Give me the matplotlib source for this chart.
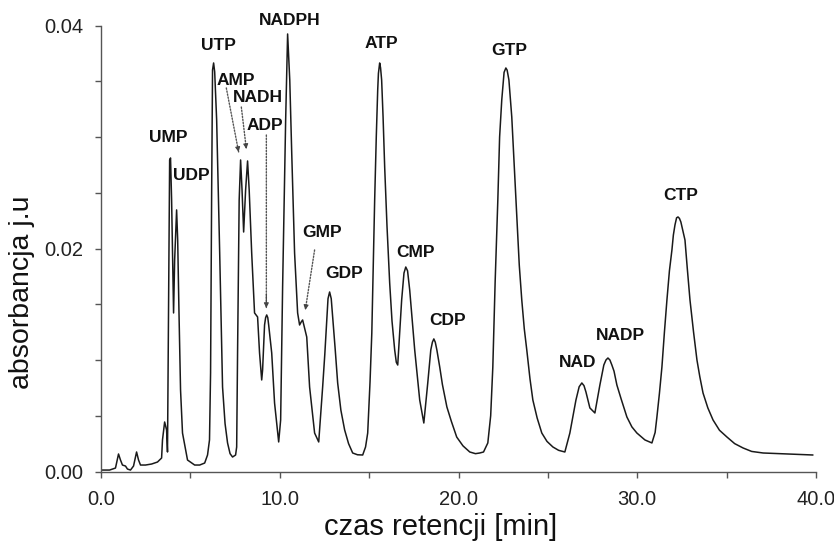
import matplotlib
matplotlib.use("Agg")
import matplotlib.pyplot as plt
import numpy as np

plt.rcParams['font.family'] = ['Liberation Sans', 'DejaVu Sans']

# retention time [min] and absorbance, region by region
time_min = [
    # baseline and early small peaks
    0.00, 0.48, 0.81, 0.98, 1.09, 1.20, 1.37, 1.48, 1.65, 1.82, 1.99, 2.10, 2.21, 2.49,
    2.83, 3.16, 3.39, 3.44, 3.56, 3.67, 3.72,
    # UMP / UDP
    3.78, 3.84, 3.89, 3.95, 4.06, 4.12, 4.23, 4.29, 4.36, 4.45, 4.56, 4.84, 5.24, 5.52,
    5.80, 5.96, 6.07,
    # UTP
    6.13, 6.19, 6.24, 6.30, 6.36, 6.47, 6.64, 6.80, 6.94, 7.08, 7.22, 7.36, 7.53, 7.59,
    # AMP / NADH / ADP
    7.64, 7.73, 7.81, 7.89, 7.98, 8.09, 8.20, 8.29, 8.43, 8.59, 8.76, 8.87, 8.99, 9.04,
    9.15, 9.21, 9.27, 9.33, 9.38, 9.55, 9.71, 9.94,
    # NADPH / GMP / GDP
    10.05, 10.16, 10.33, 10.44, 10.56, 10.67, 10.83, 11.00, 11.11, 11.20, 11.28, 11.39,
    11.51, 11.67, 11.95, 12.18, 12.40, 12.52, 12.63, 12.70, 12.79, 12.88, 12.96, 13.10,
    13.24, 13.42, 13.63, 13.85, 14.08, 14.35, 14.64,
    # ATP / CMP / CDP
    14.80, 14.92, 15.05, 15.15, 15.23, 15.31, 15.40, 15.48, 15.52, 15.59, 15.64, 15.70,
    15.78, 15.87, 16.00, 16.15, 16.28, 16.43, 16.52, 16.60, 16.82, 16.95, 17.05, 17.15,
    17.27, 17.55, 17.83, 18.06, 18.28, 18.45, 18.54, 18.62, 18.70, 18.79, 18.95, 19.10,
    19.35, 19.60, 19.90, 20.25, 20.63, 20.95, 21.19, 21.40,
    # GTP
    21.64, 21.80, 21.92, 22.05, 22.20, 22.30, 22.42, 22.55, 22.65, 22.72, 22.82, 22.98,
    23.10, 23.26, 23.40, 23.54, 23.68, 23.82, 24.00, 24.16, 24.40, 24.66, 24.95, 25.28,
    25.60, 25.95,
    # NAD / NADP
    26.23, 26.57, 26.75, 26.90, 27.02, 27.13, 27.35, 27.63, 27.91, 28.13, 28.25, 28.36,
    28.47, 28.58, 28.70, 28.86, 29.10, 29.42, 29.70, 29.98, 30.43, 30.82,
    # CTP and tail
    31.00, 31.10, 31.24, 31.38, 31.52, 31.66, 31.80, 31.94, 32.02, 32.11, 32.20, 32.28,
    32.36, 32.44, 32.55, 32.67, 32.80, 32.95, 33.15, 33.34, 33.50, 33.68, 33.95, 34.24,
    34.60, 35.02, 35.45, 35.92, 36.40, 37.04, 38.38, 39.83,
]
absorbance = [
    # baseline and early small peaks
    0.00013, 0.00013, 0.00031, 0.00157, 0.00103, 0.00058, 0.00049, 0.00022, 0.00013, 0.00049,
    0.00175, 0.00103, 0.00058, 0.00058, 0.00067, 0.00085, 0.00121, 0.00283, 0.00444, 0.00372,
    0.00175,
    # UMP / UDP
    0.01538, 0.02794, 0.02812, 0.02435, 0.01422, 0.01897, 0.02346, 0.02076, 0.01449, 0.00731,
    0.00345, 0.00103, 0.00058, 0.00058, 0.00076, 0.00148, 0.00283,
    # UTP
    0.00884, 0.02500, 0.03601, 0.03664, 0.03584, 0.03153, 0.01960, 0.00758, 0.00430, 0.00256,
    0.00160, 0.00130, 0.00148, 0.00220,
    # AMP / NADH / ADP
    0.01063, 0.02435, 0.02794, 0.02525, 0.02148, 0.02525, 0.02785, 0.02525, 0.01960, 0.01422,
    0.01386, 0.01063, 0.00821, 0.00910, 0.01314, 0.01380, 0.01404, 0.01380, 0.01314, 0.01063,
    0.00614, 0.00265,
    # NADPH / GMP / GDP
    0.00462, 0.01655, 0.03153, 0.03924, 0.03512, 0.02857, 0.01960, 0.01422, 0.01314, 0.01341,
    0.01359, 0.01287, 0.01206, 0.00758, 0.00345, 0.00265, 0.00758, 0.01050, 0.01359, 0.01550,
    0.01610, 0.01550, 0.01386, 0.01100, 0.00794, 0.00550, 0.00373, 0.00250, 0.00166, 0.00150,
    0.00148,
    # ATP / CMP / CDP
    0.00220, 0.00345, 0.00800, 0.01242, 0.01850, 0.02435, 0.03000, 0.03422, 0.03570, 0.03664,
    0.03620, 0.03512, 0.03180, 0.02731, 0.02200, 0.01691, 0.01350, 0.01090, 0.00980, 0.00955,
    0.01538, 0.01780, 0.01834, 0.01800, 0.01628, 0.01090, 0.00641, 0.00435, 0.00794, 0.01090,
    0.01160, 0.01189, 0.01160, 0.01090, 0.00937, 0.00780, 0.00579, 0.00450, 0.00309, 0.00230,
    0.00175, 0.00160, 0.00166, 0.00175,
    # GTP
    0.00256, 0.00500, 0.00937, 0.01700, 0.02435, 0.03000, 0.03332, 0.03580, 0.03619, 0.03600,
    0.03512, 0.03180, 0.02800, 0.02283, 0.01850, 0.01538, 0.01280, 0.01090, 0.00830, 0.00641,
    0.00480, 0.00345, 0.00270, 0.00220, 0.00190, 0.00175,
    # NAD / NADP
    0.00345, 0.00641, 0.00760, 0.00794, 0.00770, 0.00713, 0.00570, 0.00525, 0.00776, 0.00955,
    0.01000, 0.01018, 0.01000, 0.00955, 0.00900, 0.00776, 0.00650, 0.00489, 0.00400, 0.00345,
    0.00283, 0.00256,
    # CTP and tail
    0.00350, 0.00489, 0.00700, 0.00937, 0.01250, 0.01538, 0.01800, 0.01987, 0.02120, 0.02211,
    0.02275, 0.02283, 0.02270, 0.02238, 0.02160, 0.02076, 0.01820, 0.01538, 0.01250, 0.01000,
    0.00850, 0.00704, 0.00570, 0.00462, 0.00370, 0.00309, 0.00250, 0.00211, 0.00180, 0.00166,
    0.00157, 0.00148,
]

# peak labels: name, x (min), baseline y
peak_names = ['UMP', 'UDP', 'UTP', 'AMP', 'NADH', 'ADP', 'NADPH', 'GMP', 'GDP',
              'ATP', 'CMP', 'CDP', 'GTP', 'NAD', 'NADP', 'CTP']
label_x = [3.75, 5.04, 6.55, 7.56, 8.79, 9.15, 10.53, 12.37, 13.58,
           15.71, 17.61, 19.40, 22.82, 26.66, 29.06, 32.45]
label_y = [0.02955, 0.02614, 0.03780, 0.03467, 0.03314, 0.03063, 0.04005, 0.02103, 0.01735,
           0.03798, 0.01924, 0.01314, 0.03736, 0.00937, 0.01179, 0.02435]

# dotted arrows: (start x, start y) -> (end x, end y)
arrow_names = ['AMP', 'NADH', 'ADP', 'GMP']
arrow_start = [(7.01, 0.03440), (7.85, 0.03269), (9.25, 0.03018), (11.95, 0.01987)]
arrow_end = [(7.70, 0.02866), (8.13, 0.02893), (9.25, 0.01467), (11.43, 0.01449)]

x_ticks_major = [0, 10, 20, 30, 40]
x_tick_labels = ['0.0', '10.0', '20.0', '30.0', '40.0']
y_ticks_major = [0.0, 0.02, 0.04]
y_tick_labels = ['0.00', '0.02', '0.04']

fig = plt.figure(figsize=(8.34, 5.41), dpi=100)
ax = fig.add_axes([101 / 834, 1 - 471.5 / 541, 715 / 834, 446 / 541])

ax.plot(time_min, absorbance, color='#1a1a1a', lw=1.1,
        solid_joinstyle='round', solid_capstyle='round')

ax.set_xlim(0, 40)
ax.set_ylim(0, 0.04)
for s in ['top', 'right']:
    ax.spines[s].set_visible(False)
for s in ['left', 'bottom']:
    ax.spines[s].set_color('#555555')
    ax.spines[s].set_linewidth(1.0)

ax.set_xticks(np.arange(0, 40.1, 5), minor=True)
ax.set_xticks(x_ticks_major)
ax.set_xticklabels(x_tick_labels)
ax.set_yticks(np.arange(0, 0.0401, 0.005), minor=True)
ax.set_yticks(y_ticks_major)
ax.set_yticklabels(y_tick_labels)
ax.tick_params(which='both', direction='out', length=4, width=1, color='#555555')
ax.tick_params(which='major', labelsize=14.5, labelcolor='#222222', pad=9)

for name, x, y in zip(peak_names, label_x, label_y):
    ax.text(x, y, name, ha='center', va='baseline', fontsize=12.5,
            fontweight='bold', color='#111111', clip_on=False)

for (x0, y0), (x1, y1) in zip(arrow_start, arrow_end):
    ax.annotate('', xy=(x1, y1), xytext=(x0, y0),
                arrowprops=dict(arrowstyle='-', ls=(0, (1, 1.2)), lw=1.0,
                                color='#555555', shrinkA=0, shrinkB=0))
    xm = x1 + (x0 - x1) * 0.08
    ym = y1 + (y0 - y1) * 0.08
    ax.annotate('', xy=(x1, y1), xytext=(xm, ym),
                arrowprops=dict(arrowstyle='-|>', lw=0.8, color='#444444',
                                mutation_scale=7, shrinkA=0, shrinkB=0))

fig.text(441 / 834, 1 - 535 / 541, 'czas retencji [min]', ha='center', va='baseline',
         fontsize=21, color='#111111')
fig.text(22.5 / 834, 1 - 292 / 541, 'absorbancja j.u', ha='center', va='center',
         rotation=90, fontsize=20.5, color='#111111')

fig.savefig('out.png', dpi=100)
